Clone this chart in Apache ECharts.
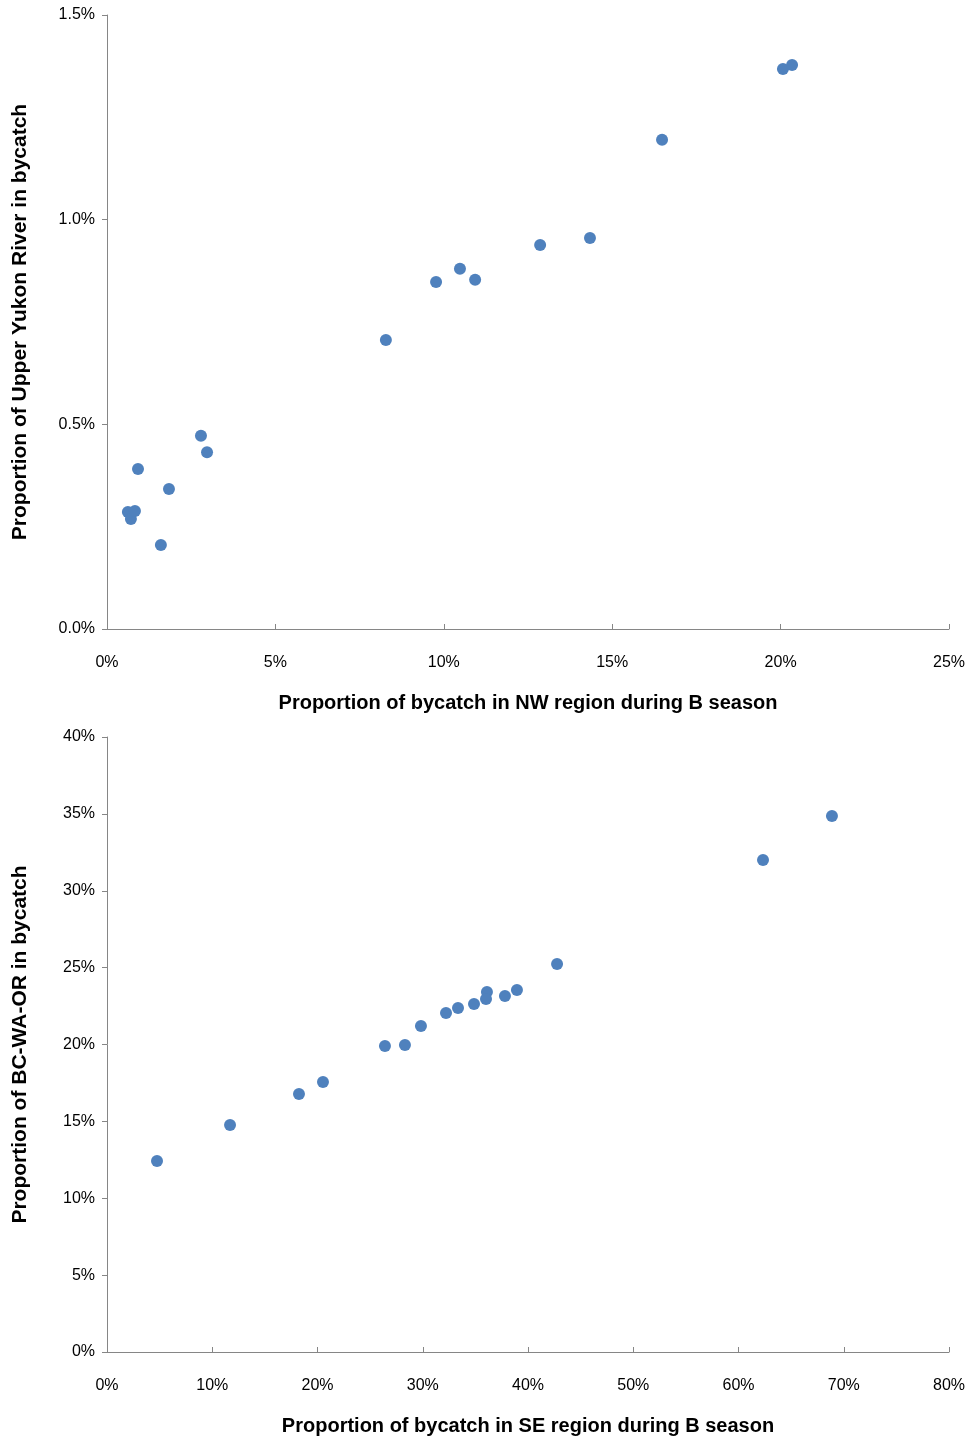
<!DOCTYPE html>
<html>
<head>
<meta charset="utf-8">
<script src="https://cdn.jsdelivr.net/npm/echarts@6/dist/echarts.min.js"></script>
<style>html,body{margin:0;padding:0;background:#fff}#main{width:971px;height:1439px}</style>
</head>
<body>
<div id="main"></div>
<script>
// top panel: NW region share (%) vs Upper Yukon share (%)
var nwX = [0.62, 0.71, 0.83, 0.92, 1.60, 1.84, 2.79, 2.97, 8.28, 9.77, 10.48, 10.93, 12.86, 14.34, 16.48, 20.07, 20.34];
var yukonY = [0.286, 0.269, 0.288, 0.391, 0.205, 0.342, 0.472, 0.432, 0.706, 0.848, 0.880, 0.853, 0.938, 0.955, 1.195, 1.368, 1.378];
// bottom panel: SE region share (%) vs BC-WA-OR share (%)
var seX = [4.75, 11.69, 18.24, 20.52, 26.41, 28.31, 29.83, 32.21, 33.35, 34.87, 36.10, 36.01, 37.81, 38.95, 42.76, 62.33, 68.88];
var bcY = [12.42, 14.76, 16.78, 17.56, 19.90, 19.97, 21.20, 22.05, 22.37, 22.63, 23.41, 22.96, 23.15, 23.54, 25.24, 32.0, 34.86];

function pairs(xs, ys) {
    return xs.map(function (x, i) { return [x, ys[i]]; });
}

var font = 'Liberation Sans';
var lineStyle = {color: '#868686', width: 1};

function xAxis(idx, max, name) {
    return {
        gridIndex: idx, type: 'value', min: 0, max: max, interval: max / (max === 25 ? 5 : 8),
        name: name, nameLocation: 'center', nameGap: 64,
        nameTextStyle: {fontFamily: font, fontSize: 20, fontWeight: 'bold', color: '#000'},
        axisLine: {lineStyle: lineStyle}, axisTick: {show: true, inside: true, lineStyle: lineStyle},
        splitLine: {show: false},
        axisLabel: {fontFamily: font, fontSize: 16, color: '#000', margin: 26, formatter: '{value}%'}
    };
}
function yAxis(idx, max, interval, name, dec) {
    return {
        gridIndex: idx, type: 'value', min: 0, max: max, interval: interval,
        name: name, nameLocation: 'center', nameGap: 76,
        nameTextStyle: {fontFamily: font, fontSize: 21, fontWeight: 'bold', color: '#000'},
        axisLine: {show: true, lineStyle: lineStyle}, axisTick: {show: true, lineStyle: lineStyle},
        splitLine: {show: false},
        axisLabel: {fontFamily: font, fontSize: 16, color: '#000', margin: 12,
            formatter: function (v) { return v.toFixed(dec) + '%'; }}
    };
}

var myChart = echarts.init(document.getElementById('main'));
option = {
    animation: false,
    grid: [
        {left: 107, right: 22, top: 15, height: 614, containLabel: false, outerBoundsMode: 'none'},
        {left: 107, right: 22, top: 737, height: 615, containLabel: false, outerBoundsMode: 'none'}
    ],
    xAxis: [
        xAxis(0, 25, 'Proportion of bycatch in NW region during B season'),
        xAxis(1, 80, 'Proportion of bycatch in SE region during B season')
    ],
    yAxis: [
        yAxis(0, 1.5, 0.5, 'Proportion of Upper Yukon River in bycatch', 1),
        yAxis(1, 40, 5, 'Proportion of BC-WA-OR in bycatch', 0)
    ],
    series: [
        {type: 'scatter', xAxisIndex: 0, yAxisIndex: 0, symbolSize: 12,
            itemStyle: {color: '#4f81bd', opacity: 1}, data: pairs(nwX, yukonY)},
        {type: 'scatter', xAxisIndex: 1, yAxisIndex: 1, symbolSize: 12,
            itemStyle: {color: '#4f81bd', opacity: 1}, data: pairs(seX, bcY)}
    ]
};
myChart.setOption(option);
</script>
</body>
</html>
